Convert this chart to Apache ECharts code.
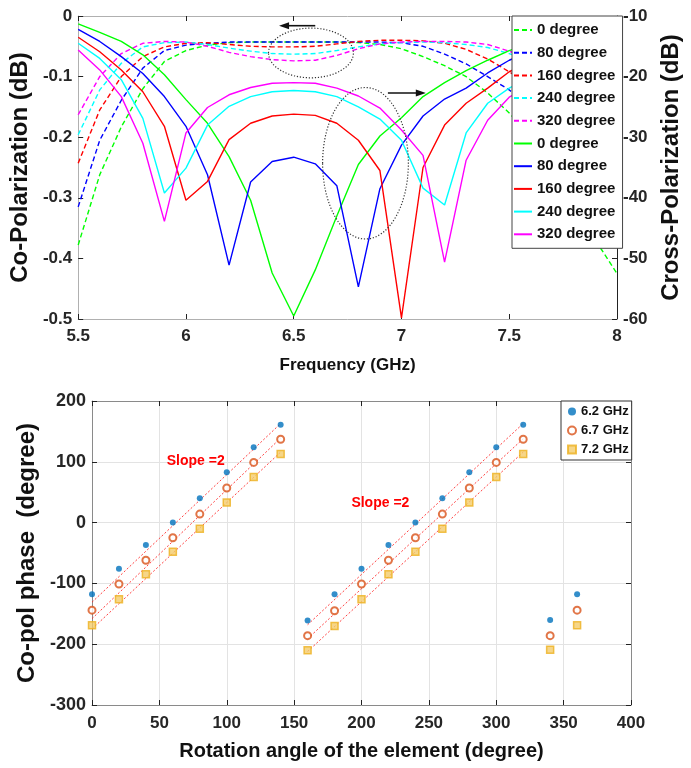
<!DOCTYPE html>
<html><head><meta charset="utf-8">
<script src="https://cdn.jsdelivr.net/npm/echarts@6/dist/echarts.min.js"></script>
<style>html,body{margin:0;padding:0;background:#fff}#c{width:691px;height:768px}</style>
</head><body><div id="c"></div>
<script>
// ---------- Top chart data ----------
const freq = [5.5,5.6,5.7,5.8,5.9,6.0,6.1,6.2,6.3,6.4,6.5,6.6,6.7,6.8,6.9,7.0,7.1,7.2,7.3,7.4,7.5,7.6,7.7,7.8,7.9,8.0];
// Co-polarization (dB, left axis) - dashed
const co0   = [-0.378,-0.262,-0.183,-0.12,-0.075,-0.057,-0.048,-0.044,-0.043,-0.043,-0.043,-0.043,-0.043,-0.044,-0.047,-0.054,-0.067,-0.082,-0.1,-0.127,-0.16,-0.2,-0.25,-0.31,-0.37,-0.425];
const co80  = [-0.315,-0.205,-0.139,-0.086,-0.057,-0.048,-0.045,-0.043,-0.043,-0.043,-0.043,-0.043,-0.043,-0.043,-0.043,-0.044,-0.05,-0.063,-0.079,-0.1,-0.122,-0.15,-0.185,-0.225,-0.27,-0.32];
const co160 = [-0.243,-0.155,-0.1,-0.067,-0.051,-0.045,-0.044,-0.047,-0.05,-0.051,-0.051,-0.05,-0.046,-0.042,-0.04,-0.04,-0.041,-0.045,-0.055,-0.071,-0.092,-0.115,-0.14,-0.17,-0.2,-0.235];
const co240 = [-0.196,-0.122,-0.078,-0.051,-0.044,-0.043,-0.047,-0.053,-0.058,-0.062,-0.063,-0.062,-0.057,-0.051,-0.046,-0.044,-0.043,-0.044,-0.047,-0.052,-0.062,-0.075,-0.09,-0.11,-0.135,-0.16];
const co320 = [-0.163,-0.1,-0.062,-0.045,-0.042,-0.043,-0.05,-0.06,-0.067,-0.072,-0.074,-0.073,-0.065,-0.054,-0.046,-0.043,-0.042,-0.042,-0.043,-0.047,-0.058,-0.07,-0.085,-0.1,-0.115,-0.13];
// Cross-polarization (dB, right axis) - solid
const xp0   = [-11.3,-12.7,-14.2,-16.4,-19.7,-23.8,-27.7,-33.2,-40.4,-52.4,-59.5,-51.9,-43,-34.5,-29.8,-26.8,-23.3,-21,-19,-17.3,-15.7,-14.5,-13.5,-12.7,-12,-11.5];
const xp80  = [-12.2,-14.2,-16.7,-19.5,-23.3,-28.2,-36.2,-51.1,-37.4,-34.0,-33.3,-34.4,-38.0,-54.7,-38.5,-31.3,-26.5,-23.7,-21.9,-19.4,-17.3,-15.8,-14.5,-13.5,-12.7,-12];
const xp160 = [-13.5,-15.9,-18.9,-22.5,-28.2,-40.4,-37.3,-30.4,-27.7,-26.5,-26.2,-26.4,-27.7,-30.5,-35.5,-59.8,-35,-28,-24.4,-21.9,-19.2,-17.5,-16,-15,-14,-13.3];
const xp240 = [-14.5,-17,-20.5,-26.9,-39.2,-35.1,-28,-24.9,-23.3,-22.5,-22.3,-22.5,-23.3,-25,-27,-30.5,-38.4,-41.2,-29.3,-24.4,-21.9,-20,-18.5,-17.2,-16,-15];
const xp320 = [-15.6,-18.9,-23.3,-31,-43.9,-29.3,-25.1,-23,-21.8,-21.1,-21,-21.1,-21.9,-23.2,-25.2,-28.8,-33,-50.6,-33.8,-27.2,-23.4,-21.5,-20,-18.7,-17.5,-16.5];
const degNames = ['0 degree','80 degree','160 degree','240 degree','320 degree'];
// annotations (data coords): [centerX, centerY(left axis), radiusX, radiusY]
const ellipseCo = [6.58, -0.061, 0.197, 0.041];
const ellipseX  = [6.833, -0.243, 0.199, 0.125];
const arrowLeft  = [6.60, 6.432, -0.016];
const arrowRight = [6.937, 7.113, -0.127];

// ---------- Bottom chart data ----------
const angle = [0,20,40,60,80,100,120,140,160,180,200,220,240,260,280,300,320,340,360];
const ph62 = [-118,-76,-37,0,40,83,124,161,-161,-118,-76,-37,0,40,83,124,161,-160,-118];
const ph67 = [-144,-101,-62,-25,14,57,99,137,-186,-145,-101,-62,-25,14,57,99,137,-186,-144];
const ph72 = [-169,-126,-85,-48,-10,33,75,113,-210,-170,-126,-85,-48,-10,33,75,113,-209,-169];
const fitXA = [0,140];
const fitA62 = [-131,163], fitA67 = [-158,139], fitA72 = [-175,116];
const fitXB = [160,320];
const fitB62 = [-168,163], fitB67 = [-191,138], fitB72 = [-212,116];
const slopeLabels = [[77,101,'Slope =2'],[214,32,'Slope =2']];

const FONT = "'Liberation Sans', Arial, Helvetica, sans-serif";
const TXT = '#262626';
const chart = echarts.init(document.getElementById('c'), null, {renderer:'canvas'});
const pairs = (xs, ys) => xs.map((x,i)=>[x, ys[i]]);

const topColors = ['#00ff00','#0000ff','#ff0000','#00ffff','#ff00ff'];
const series = [];
[co0,co80,co160,co240,co320].forEach((d,i)=>series.push({
  type:'line', name:degNames[i], xAxisIndex:0, yAxisIndex:0, data:pairs(freq,d),
  symbol:'none', lineStyle:{color:topColors[i], width:1.4, type:[5,3]}, itemStyle:{color:topColors[i]}, z:2
}));
[xp0,xp80,xp160,xp240,xp320].forEach((d,i)=>series.push({
  type:'line', name:degNames[i]+' ', xAxisIndex:0, yAxisIndex:1, data:pairs(freq,d),
  symbol:'none', lineStyle:{color:topColors[i], width:1.4}, itemStyle:{color:topColors[i]}, z:2
}));
const fitStyle = {color:'#ff2020', width:1, type:[2,2], opacity:0.85};
[[fitXA,fitA62],[fitXA,fitA67],[fitXA,fitA72],[fitXB,fitB62],[fitXB,fitB67],[fitXB,fitB72]].forEach(([xs,ys])=>series.push({
  type:'line', xAxisIndex:2, yAxisIndex:2, data:pairs(xs,ys), symbol:'none', lineStyle:fitStyle, z:2, silent:true
}));
series.push({type:'scatter', name:'6.2 GHz', xAxisIndex:2, yAxisIndex:2, data:pairs(angle,ph62),
  symbol:'circle', symbolSize:6, itemStyle:{color:'#0072BD'}, z:3});
series.push({type:'scatter', name:'6.7 GHz', xAxisIndex:2, yAxisIndex:2, data:pairs(angle,ph67),
  symbol:'circle', symbolSize:7, itemStyle:{color:'#ffffff', borderColor:'#D95319', borderWidth:2}, z:3});
series.push({type:'scatter', name:'7.2 GHz', xAxisIndex:2, yAxisIndex:2, data:pairs(angle,ph72),
  symbol:'rect', symbolSize:7, itemStyle:{color:'#F4CC6A', borderColor:'#EDB120', borderWidth:1.5}, z:3});

const lbl = (size, show=true, margin=8) => ({show, fontFamily:FONT, fontWeight:'bold', fontSize:size, color:TXT, margin});
const tick = {show:true, inside:true, length:5, lineStyle:{color:'#222', width:1}};
const boxLine = c => ({show:true, onZero:false, lineStyle:{color:c, width:1}});
const nameStyle = size => ({fontFamily:FONT, fontWeight:'bold', fontSize:size, color:'#111'});

const option = {
  animation:false,
  backgroundColor:'#fff',
  grid:[
    {left:73, top:16, width:545, height:303, containLabel:false},
    {left:92, top:401, width:539, height:304, containLabel:false}
  ],
  xAxis:[
    {type:'value', gridIndex:0, min:5.5, max:8, interval:0.5, position:'bottom',
     axisLine:boxLine('#b0b0b0'), axisTick:tick, axisLabel:lbl(17,true,9), splitLine:{show:false},
     name:'Frequency (GHz)', nameLocation:'middle', nameGap:38, nameTextStyle:nameStyle(17)},
    {type:'value', gridIndex:0, min:5.5, max:8, interval:0.5, position:'top',
     axisLine:boxLine('#b0b0b0'), axisTick:tick, axisLabel:{show:false}, splitLine:{show:false}},
    {type:'value', gridIndex:1, min:0, max:400, interval:50, position:'bottom',
     axisLine:boxLine('#8a8a8a'), axisTick:tick, axisLabel:lbl(17,true,10),
     splitLine:{show:true, lineStyle:{color:'#e3e3e3', width:1}},
     name:'Rotation angle of the element (degree)', nameLocation:'middle', nameGap:36, nameTextStyle:nameStyle(20)},
    {type:'value', gridIndex:1, min:0, max:400, interval:50, position:'top',
     axisLine:boxLine('#8a8a8a'), axisTick:tick, axisLabel:{show:false}, splitLine:{show:false}}
  ],
  yAxis:[
    {type:'value', gridIndex:0, min:-0.5, max:0, interval:0.1, position:'left',
     axisLine:boxLine('#b0b0b0'), axisTick:tick, axisLabel:lbl(17,true,6), splitLine:{show:false},
     name:'Co-Polarization (dB)', nameLocation:'middle', nameRotate:90, nameGap:41, nameTextStyle:nameStyle(24)},
    {type:'value', gridIndex:0, min:-60, max:-10, interval:10, position:'right',
     axisLine:boxLine('#222'), axisTick:tick, axisLabel:lbl(17,true,6), splitLine:{show:false},
     name:'Cross-Polarization (dB)', nameLocation:'middle', nameRotate:90, nameGap:42, nameTextStyle:nameStyle(24)},
    {type:'value', gridIndex:1, min:-300, max:200, interval:100, position:'left',
     axisLine:boxLine('#8a8a8a'), axisTick:tick, axisLabel:lbl(18,true,6),
     splitLine:{show:true, lineStyle:{color:'#e3e3e3', width:1}},
     name:'Co-pol phase  (degree)', nameLocation:'middle', nameRotate:90, nameGap:43, nameTextStyle:nameStyle(24)},
    {type:'value', gridIndex:1, min:-300, max:200, interval:100, position:'right',
     axisLine:boxLine('#8a8a8a'), axisTick:tick, axisLabel:{show:false}, splitLine:{show:false}}
  ],
  legend:[
    {orient:'vertical', left:512, top:16, padding:[6,3,6,1], itemGap:6.7,
     itemWidth:18, itemHeight:12, backgroundColor:'#fff', borderColor:'#444', borderWidth:1,
     itemStyle:{opacity:0},
     data:degNames.concat(degNames.map(n=>n+' ')),
     textStyle:{fontFamily:FONT, fontWeight:'bold', fontSize:15, lineHeight:16, color:'#111'}, z:10},
    {orient:'vertical', left:561, top:401, padding:[4,3,4,6], itemGap:6,
     itemWidth:8, itemHeight:8, backgroundColor:'#fff', borderColor:'#333', borderWidth:1,
     data:['6.2 GHz','6.7 GHz','7.2 GHz'],
     textStyle:{fontFamily:FONT, fontWeight:'bold', fontSize:13, lineHeight:13, color:'#111'}, z:10}
  ],
  series
};
chart.setOption(option);

// ---------- annotations positioned from data coordinates ----------
const P = (x,y)=>chart.convertToPixel({xAxisIndex:0, yAxisIndex:0},[x,y]);
const Q = (x,y)=>chart.convertToPixel({xAxisIndex:2, yAxisIndex:2},[x,y]);
function ell(e){
  const c = P(e[0],e[1]);
  const rx = Math.abs(P(e[0]+e[2],e[1])[0]-c[0]);
  const ry = Math.abs(P(e[0],e[1]+e[3])[1]-c[1]);
  return {type:'ellipse', shape:{cx:c[0], cy:c[1], rx, ry}, z:20,
    style:{fill:null, stroke:'#333', lineWidth:1.2, lineDash:[1.2,1.8]}};
}
function arrow(a){
  const s = P(a[0],a[2]), t = P(a[1],a[2]);
  const dir = Math.sign(t[0]-s[0]);
  const hl = 10, hw = 3.5;
  return [
    {type:'line', shape:{x1:s[0], y1:s[1], x2:t[0]-dir*hl*0.6, y2:t[1]}, z:20, style:{stroke:'#111', lineWidth:1.6}},
    {type:'polygon', shape:{points:[[t[0],t[1]],[t[0]-dir*hl,t[1]-hw],[t[0]-dir*hl,t[1]+hw]]}, z:20, style:{fill:'#111'}}
  ];
}
const graphics = [ell(ellipseCo), ell(ellipseX)].concat(arrow(arrowLeft), arrow(arrowRight));
slopeLabels.forEach(s=>{
  const p = Q(s[0],s[1]);
  graphics.push({type:'text', x:p[0], y:p[1], z:20,
    style:{text:s[2], fill:'#ff0000', font:"bold 14px "+FONT, textAlign:'center', textVerticalAlign:'middle'}});
});
chart.setOption({graphic:graphics});
</script>
</body></html>
